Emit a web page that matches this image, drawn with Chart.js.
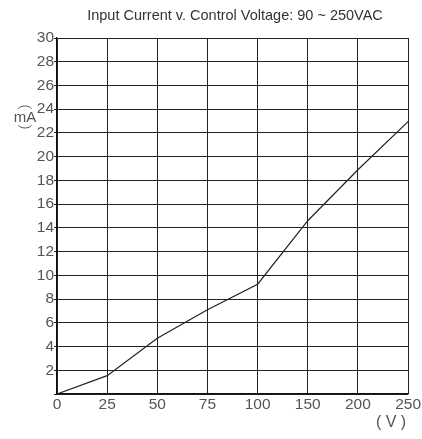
<!DOCTYPE html>
<html>
<head>
<meta charset="utf-8">
<script src="https://cdn.jsdelivr.net/npm/chart.js@4"></script>
<style>
  body { margin: 0; background: #fff; }
  #wrap { width: 422px; height: 439px; }
</style>
</head>
<body>
<div id="wrap"><canvas id="chart" width="422" height="439"></canvas></div>
<script>
// data
const voltages = ["0", "25", "50", "75", "100", "150", "200", "250"];
const currentMA = [0, 1.55, 4.7, 7.1, 9.25, 14.6, 18.9, 22.95];

const titleText = "Input Current v. Control Voltage: 90 ~ 250VAC";
const fontFamily = "'Liberation Sans', Arial, sans-serif";

// title and unit labels
const labelsPlugin = {
  id: "labels",
  afterDraw(chart) {
    const c = chart.ctx;
    c.save();
    c.fillStyle = "#333";
    c.font = "14.5px " + fontFamily;
    c.textAlign = "center";
    c.textBaseline = "middle";
    c.fillText(titleText, 235, 16);

    // y unit, vertical style: rotated brackets round upright "mA"
    c.fillStyle = "#555";
    c.font = "15px " + fontFamily;
    c.fillText("mA", 25, 118);
    c.strokeStyle = "#555";
    c.lineWidth = 1;
    c.beginPath();
    c.ellipse(25, 110, 7, 4, 0, Math.PI * 1.1, Math.PI * 1.9);
    c.stroke();
    c.beginPath();
    c.ellipse(25, 124, 7, 4, 0, Math.PI * 0.1, Math.PI * 0.9);
    c.stroke();

    c.font = "16px " + fontFamily;
    c.fillText("( V )", 391, 423);
    c.restore();
  }
};

new Chart(document.getElementById("chart"), {
  type: "line",
  data: {
    labels: voltages,
    datasets: [{
      data: currentMA,
      borderColor: "#222",
      borderWidth: 1.2,
      pointRadius: 0,
      tension: 0,
      fill: false
    }]
  },
  options: {
    responsive: false,
    animation: false,
    layout: { padding: { top: 38, right: 12, left: 0, bottom: 0 } },
    plugins: { legend: { display: false }, tooltip: { enabled: false } },
    scales: {
      x: {
        type: "category",
        offset: false,
        grid: { color: "#222", lineWidth: 1, drawTicks: false },
        border: { color: "#111", width: 1.2 },
        ticks: { color: "#555", font: { size: 15.5, family: fontFamily }, padding: 1, maxRotation: 0 },
        afterFit(s) { s.height = 45; }
      },
      y: {
        min: 0,
        max: 30,
        grid: { color: "#222", lineWidth: 1, tickLength: 3 },
        border: { color: "#111", width: 1.2 },
        ticks: {
          stepSize: 2,
          color: "#555",
          font: { size: 15.5, family: fontFamily },
          padding: 0,
          callback: (v) => (v === 0 ? "" : v)
        },
        afterFit(s) { s.width = 57; }
      }
    }
  },
  plugins: [labelsPlugin]
});
</script>
</body>
</html>
